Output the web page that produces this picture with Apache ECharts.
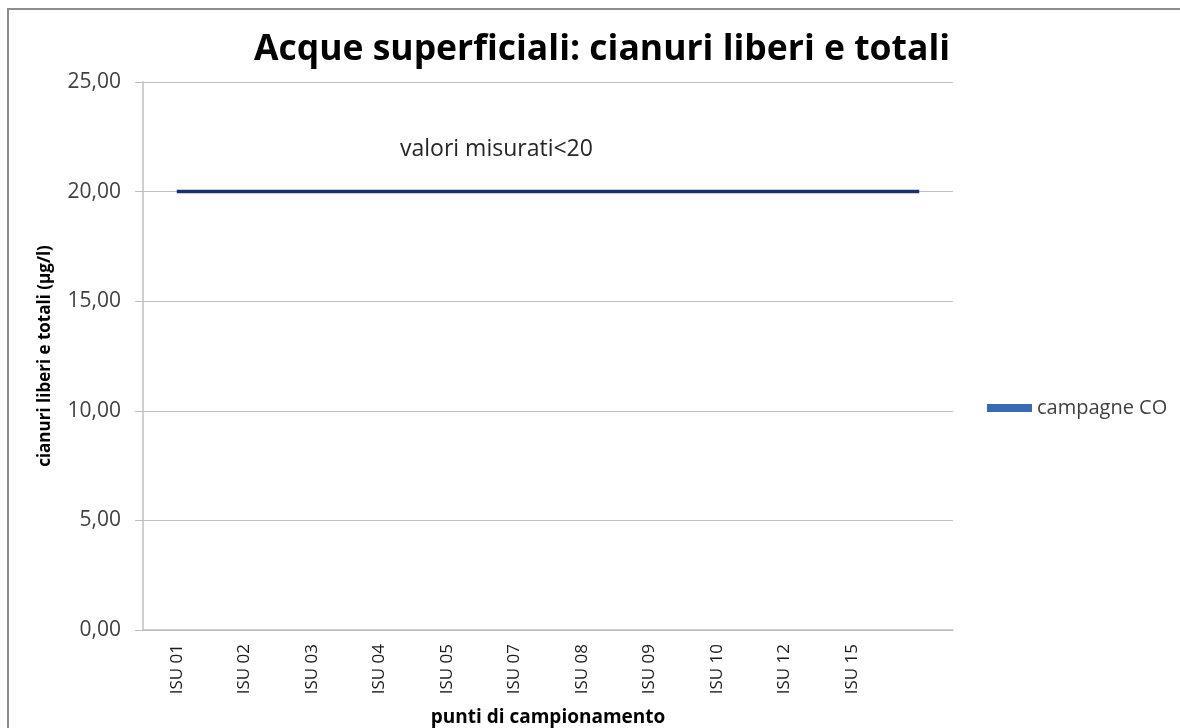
<!DOCTYPE html>
<html>
<head>
<meta charset="utf-8">
<script src="https://cdn.jsdelivr.net/npm/echarts@6/dist/echarts.min.js"></script>
<style>
  html, body { margin: 0; padding: 0; background: #fff; }
  #chart { width: 1180px; height: 728px; }
</style>
</head>
<body>
<div id="chart"></div>
<script>
// punti di campionamento (l'ultima categoria è vuota)
const categories = ['ISU 01', 'ISU 02', 'ISU 03', 'ISU 04', 'ISU 05', 'ISU 07',
                    'ISU 08', 'ISU 09', 'ISU 10', 'ISU 12', 'ISU 15', ''];
// campagne CO - valori misurati < 20
const campagneCO = [20, 20, 20, 20, 20, 20, 20, 20, 20, 20, 20, 20];
const yTicks = [0, 5, 10, 15, 20, 25];

const font = '"Open Sans", sans-serif';

var chart = echarts.init(document.getElementById('chart'));

const option = {
    backgroundColor: '#fff',
    animation: false,
    title: {
        text: 'Acque superficiali: cianuri liberi e totali',
        left: 597,
        top: 27,
        textAlign: 'center',
        textStyle: { fontFamily: font, fontSize: 35.5, fontWeight: 'bold', color: '#000' }
    },
    legend: {
        left: 982,
        top: 393,
        icon: 'rect',
        itemWidth: 45,
        itemHeight: 8,
        itemGap: 6,
        textStyle: { fontFamily: font, fontSize: 20, color: '#404040' },
        data: [{ name: 'campagne CO', itemStyle: { color: '#3A6BB5' } }]
    },
    grid: { left: 143, right: 227, top: 82, bottom: 98, outerBoundsMode: 'none' },
    xAxis: {
        type: 'category',
        data: categories,
        boundaryGap: true,
        name: 'punti di campionamento',
        nameLocation: 'middle',
        nameGap: 78,
        nameTextStyle: { fontFamily: font, fontSize: 19, fontWeight: 'bold', color: '#000' },
        axisLine: { lineStyle: { color: '#bfbfbf', width: 1.5 } },
        axisTick: { show: false },
        axisLabel: {
            rotate: 90,
            interval: 0,
            margin: 14,
            fontFamily: font,
            fontSize: 17,
            color: '#1a1a1a'
        }
    },
    yAxis: {
        type: 'value',
        min: 0,
        max: 25,
        interval: 5,
        name: 'cianuri liberi e totali (µg/l)',
        nameLocation: 'middle',
        nameGap: 89,
        nameTextStyle: { fontFamily: font, fontSize: 17, fontWeight: 'bold', color: '#000' },
        axisLine: { show: true, lineStyle: { color: '#bfbfbf', width: 1.5 } },
        axisTick: { show: true, length: 8, lineStyle: { color: '#bfbfbf' } },
        splitLine: { lineStyle: { color: '#bfbfbf', width: 1 } },
        axisLabel: {
            margin: 22,
            fontFamily: font,
            fontSize: 21,
            color: '#404040',
            formatter: v => yTicks.includes(v) ? v.toFixed(2).replace('.', ',') : ''
        }
    },
    graphic: [
        {
            type: 'rect',
            shape: { x: 8, y: 9, width: 1200, height: 740 },
            style: { fill: 'none', stroke: '#8c8c8c', lineWidth: 2 },
            silent: true
        },
        {
            type: 'text',
            left: 400,
            top: 138,
            style: { text: 'valori misurati<20', font: '23px ' + font, fill: '#262626' }
        }
    ],
    series: [{
        name: 'campagne CO',
        type: 'line',
        data: campagneCO,
        symbol: 'none',
        lineStyle: { color: '#1B2F6E', width: 3.5 },
        itemStyle: { color: '#1B2F6E' }
    }]
};

chart.setOption(option);
</script>
</body>
</html>
